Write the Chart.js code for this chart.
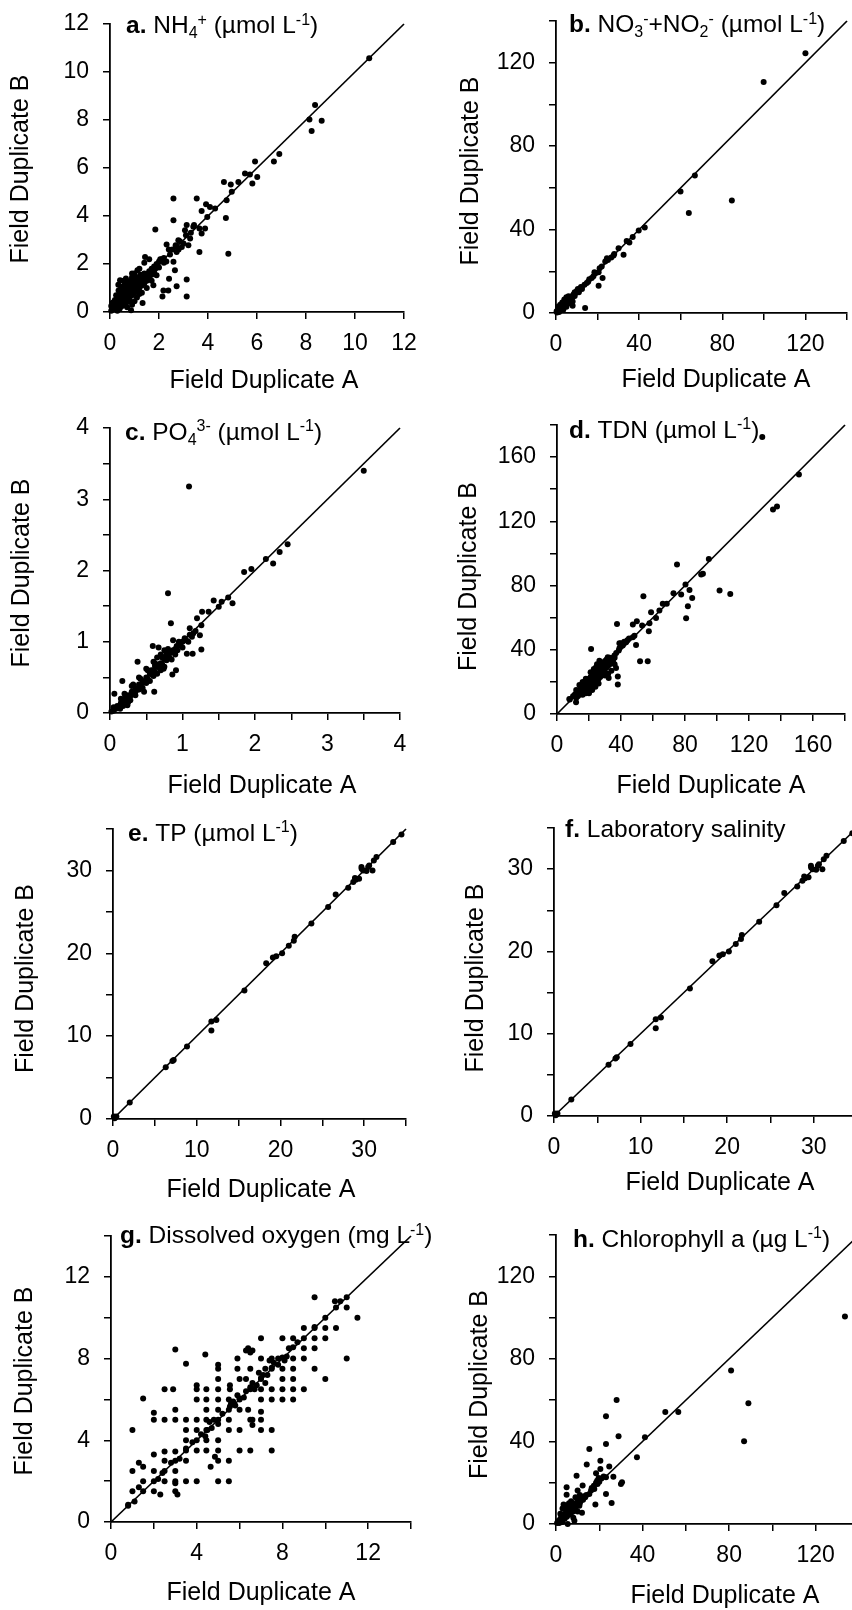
<!DOCTYPE html>
<html>
<head>
<meta charset="utf-8">
<script src="https://cdn.jsdelivr.net/npm/chart.js@4.4.0/dist/chart.umd.min.js"></script>
<style>
  html, body { margin: 0; padding: 0; background: #fff; overflow: hidden; }
  body { position: relative; width: 852px; height: 1610px; }
  canvas { position: absolute; }
</style>
</head>
<body>
<script>
// Field duplicate pairs [A, B], one array per panel
var nh4 = [
  [10.58,10.57],[8.37,8.62],[8.14,8.02],[8.23,7.54],[8.64,7.97],[6.69,6.27],[6.91,6.58],[5.92,6.27],[6.01,5.63],[5.81,5.35],
  [5.51,5.77],[5.71,5.73],[5.24,5.42],[4.93,5.31],[4.65,5.42],[4.97,5.01],[4.76,4.66],[4.73,3.92],[4.83,2.43],[4.29,4.31],
  [4.08,4.38],[3.92,4.49],[3.74,4.21],[3.97,3.96],[3.88,3.48],[3.74,3.27],[3.54,4.73],[3.43,3.62],[3.65,3.48],[3.65,2.50],
  [3.13,3.62],[3.06,3.41],[3.27,3.06],[3.20,2.78],[2.59,4.73],[2.59,3.82],[2.79,2.99],[2.72,2.71],[2.72,2.50],[2.93,2.71],
  [2.31,2.81],[2.59,2.09],[2.65,1.74],[2.41,1.39],[2.72,1.07],[3.13,1.35],[3.13,0.65],[2.18,0.90],[2.14,0.65],[2.38,0.90],
  [1.85,3.44],[1.43,2.29],[1.12,1.74],[0.34,1.14],[0.41,1.32],[0.86,0.07],[1.33,0.38],[1.77,1.11],[1.90,1.53],
  [2.20,2.25],[2.45,2.40],[2.55,2.60],[2.68,2.78],[2.85,2.95],[3.00,2.85],[3.10,3.20],[3.30,3.30],[3.40,3.55],[2.40,2.60],
  [2.80,2.60],[2.30,2.10],[2.05,2.20],
  [0.05,0.05],[0.10,0.20],[0.15,0.10],[0.20,0.30],[0.25,0.15],[0.30,0.40],[0.30,0.20],[0.35,0.50],[0.40,0.30],[0.45,0.60],
  [0.50,0.40],[0.50,0.70],[0.55,0.50],[0.60,0.80],[0.60,0.45],[0.65,0.65],[0.70,0.90],[0.70,0.55],[0.75,0.75],[0.80,1.00],
  [0.80,0.60],[0.85,0.85],[0.90,1.10],[0.90,0.70],[0.95,0.95],[1.00,1.20],[1.00,0.80],[1.05,1.00],[1.10,1.30],[1.10,0.90],
  [1.15,1.10],[1.20,1.40],[1.20,1.00],[1.25,1.20],[1.30,1.50],[1.30,1.10],[1.35,1.30],[1.40,1.60],[1.40,1.20],[1.50,1.50],
  [1.50,1.30],[1.60,1.70],[1.60,1.45],[1.70,1.80],[1.70,1.55],[1.80,1.90],[1.80,1.65],[1.90,2.00],[2.00,2.10],[2.00,1.85],
  [2.10,2.20],[2.20,2.05],[0.20,0.50],[0.40,0.80],[0.25,0.70],[0.50,1.00],[0.60,1.20],[0.70,1.25],[0.45,1.05],[0.60,1.00],
  [0.35,0.90],[0.55,1.30],[0.90,1.45],[1.00,1.60],[1.20,1.80],[1.40,2.05],[1.60,2.20],[1.10,0.60],[1.30,0.80],[1.00,0.45],
  [0.90,0.30],[0.70,0.20],[1.50,1.00],[1.70,1.30],[0.15,0.30],[0.08,0.12],[0.12,0.40],[0.30,0.05],[0.75,1.15],[0.85,1.30],
  [1.05,1.45],[0.65,0.35],[0.50,0.25],[0.40,0.15],
  [0.18,0.22],[0.28,0.32],[0.38,0.42],[0.48,0.55],[0.58,0.62],[0.68,0.75],[0.78,0.85],[0.88,0.95],[0.98,1.05],[1.08,1.15],
  [1.18,1.25],[1.28,1.35],[0.22,0.12],[0.32,0.25],[0.42,0.35],[0.52,0.45],[0.62,0.55],[0.72,0.65],[0.82,0.72],[0.92,0.82],
  [1.02,0.92],[1.12,1.02],[0.35,0.62],[0.45,0.75],[0.55,0.85],[0.65,0.95],[0.75,1.05],[0.85,1.15],[0.95,1.25],[1.05,1.35],
  [1.15,1.45],[1.25,1.55],[0.10,0.35],[0.05,0.25],[0.60,0.30],[0.80,0.45],[1.20,0.75],[1.45,1.40],[1.55,1.60],[1.65,1.60],
  [1.75,1.70],[1.85,1.80],[1.95,1.95],[0.90,1.60],[0.65,1.40]
];

var no3no2 = [
  [120,124.5],[99.9,110.7],[84.6,53.9],[63.9,47.9],[59.9,58.2],[66.8,65.9],[42.7,41],[39.8,39.6],[36.9,36.4],[35.3,33.8],
  [32.5,27.9],[30.1,31.1],[27.7,27.6],[26.6,26.6],[24.5,26.3],[23.7,24.7],[22.4,16.8],[20.5,13.1],[20.5,19.5],[18.5,19.5],
  [18,17.6],[17.2,16.8],[14,2.4],[14.8,14.4],[13.7,13.6],[12.4,12.4],[10.8,10.9],[9.2,9.3],[7.6,8],[6,6.4],
  [5.2,7.2],[6.8,5.6],[4.3,4.8],[2.7,4],[1.1,2.4],[1.9,1.6],[0.3,0.8],
  [0.5,0.2],[1,1.2],[1.5,0.5],[2,2.5],[2.5,1.8],[3,3.5],[3,2],[3.5,4.5],[4,3],[4.5,5],[5,4],[5.5,6.5],[6,5],[6.5,7],
  [7,6],[7.5,7.8],[8,7.5],[8.5,9],[9,8.2],[10,10.5],[11,10],[12,12.5],[3,5],[5,7.5],[7,4.5],[8,5.5],[1,3],[2,4],
  [4,6.5],[6,8],[9,10],[10.5,11.5],[12.5,11.5],[15.5,15],[16,16.2],[19,19],[21,21.5],[22,22.3],[25,25.4],[28,28.3],
  [34,34.5],[5,3],[8,3.5],[3.5,1.5]
];

var po4 = [
  [3.5,3.4],[1.09,3.18],[0.8,1.68],[0.84,1.26],[2.45,2.37],[2.34,2.26],[2.25,2.1],[2.15,2.16],[1.95,2.02],[1.85,1.98],
  [1.69,1.54],[1.63,1.62],[1.5,1.49],[1.43,1.58],[1.54,1.56],[1.36,1.42],[1.27,1.42],[1.2,1.33],[1.26,1.23],[1.1,1.19],
  [1.24,1.09],[1.13,1.07],[1.03,1.05],[1.26,0.89],[1.14,0.83],[1.06,0.83],[0.97,0.98],[0.87,1.02],[0.59,0.94],[0.67,0.92],
  [0.91,0.6],[0.86,0.54],[0.74,0.62],[0.38,0.72],[0.61,0.3],[0.47,0.3],[0.17,0.45],[0.06,0.27],[0.24,0.11],[0.14,0.06],
  [0.02,0.02],[0.05,0.03],[0.08,0.06],[0.1,0.1],[0.12,0.08],[0.15,0.14],[0.18,0.16],[0.2,0.2],[0.22,0.18],[0.25,0.25],
  [0.28,0.24],[0.3,0.3],[0.32,0.28],[0.35,0.35],[0.38,0.33],[0.4,0.4],[0.42,0.38],[0.45,0.45],[0.48,0.44],[0.5,0.5],
  [0.52,0.48],[0.55,0.55],[0.58,0.54],[0.6,0.6],[0.62,0.58],[0.65,0.65],[0.68,0.64],[0.7,0.7],[0.72,0.68],[0.75,0.75],
  [0.78,0.74],[0.8,0.8],[0.82,0.78],[0.85,0.85],[0.88,0.86],[0.9,0.9],[0.92,0.94],[0.95,0.95],[1.0,1.0],[1.05,1.02],
  [1.1,1.1],[1.15,1.12],[0.3,0.38],[0.4,0.5],[0.5,0.62],[0.6,0.72],[0.7,0.82],[0.8,0.9],[0.65,0.78],[0.75,0.88],
  [0.55,0.45],[0.65,0.55],[0.75,0.65],[0.45,0.35],[0.85,0.75],[0.25,0.15],[0.35,0.25],[0.15,0.2],[0.2,0.27],[0.28,0.18],
  [0.18,0.1],[0.7,0.6],[0.78,0.85],[0.9,0.82],[0.95,1.0],[1.0,0.92],[0.62,0.7],[0.52,0.6],[0.42,0.48],[0.32,0.4],
  [0.57,0.6],[0.67,0.68],[0.77,0.8],[0.87,0.88],[0.97,0.96],[0.35,0.3],[0.45,0.42],[0.25,0.2],[0.15,0.12],[0.05,0.08],
  [0.72,0.78],[0.82,0.86],[0.62,0.66],[1.08,1.0],[1.18,1.15],[0.93,0.88],[0.6,0.52],[0.5,0.42],[0.4,0.33],[0.3,0.26]
];

var tdn = [
  [128.3,172.5],[151.2,149.2],[137.5,129.2],[135,127.4],[94.9,96.6],[91.2,87.3],[90.1,86.9],[101.6,76.9],[108.3,74.8],[80.3,80.6],
  [82.8,77.3],[77.6,74.4],[72.8,75.2],[75,93.1],[84.5,72.3],[81.8,67.1],[80.7,59.6],[68.6,68.6],[66.1,68.6],[64,64.4],
  [61.9,59.8],[58.8,63.4],[57.8,56.5],[57.4,51.5],[54,73.4],[56.7,32.8],[51.9,32.8],[53.2,55.1],[49.9,57.8],[47.4,55.7],
  [48.4,48.8],[49.4,43],[47.4,47.8],[43.2,44.7],[39,44.1],[37.5,56.1],[36.9,28.7],[38,23.3],[38,18.3],[41.1,42.6],
  [38.6,39.5],[35.9,36.4],[31.7,35.3],[21.3,40.5],[26.5,33.2],[24.4,29.1],[30.7,24.9],[32.3,22.4],[7.7,9.4],[11.9,7.3],
  [8,9],[10,11],[12,10],[12,13],[13,14],[14,12],[14,15],[15,13],[15,17],[16,14],[16,18],[17,15],[17,16],[17,19],[18,16],
  [18,20],[18,17],[19,18],[19,21],[19,15],[20,17],[20,20],[20,22],[21,19],[21,23],[21,16],[22,20],[22,24],[22,18],[23,21],
  [23,25],[23,19],[24,22],[24,26],[24,20],[25,23],[25,27],[25,21],[26,24],[26,28],[26,22],[27,25],[27,30],[27,23],[28,26],
  [28,31],[28,24],[29,27],[29,32],[30,28],[30,33],[31,29],[31,34],[32,30],[33,31],[33,35],[34,32],[35,33],[36,35],[37,38],
  [39,41],[40,44],[42,45],[44,46],[45,47],[36,31],[34,27],[32,25],[30,24],[26,19],[24,17],[22,15],[20,13],[18,13],[16,12],
  [21,26],[23,28],[25,31],[18,22],[16,20],[14,18],[12,15],[11,12],[13,11],[15,15],[19,19],[22,22],[26,26],[29,29],[32,33],
  [15,16],[16,15],[17,17],[18,18],[18,19],[19,17],[20,18],[20,19],[21,20],[21,21],[22,21],[23,22],[23,23],[24,23],[24,24],
  [25,24],[25,25],[26,25],[27,27],[27,26],[28,28],[28,27],[29,28],[30,30],[30,29],[31,31],[32,32],[33,33],[34,34],[35,35],
  [14,14],[13,13],[12,12],[16,16],[17,18],[19,20],[20,21],[22,23]
];

var tp = [
  [34.46,34.35],[33.47,33.43],[31.47,31.62],[31.16,31.21],[31,30],[30.48,30.41],[30.28,29.92],[29.88,30],[29.68,30.41],[29.7,30.2],
  [30.6,30.6],[29.4,29],[29,28.88],[28.7,28.6],[28.9,29.1],[28.1,27.9],[26.6,27.1],[25.7,25.6],[23.7,23.6],[21.7,22],
  [21.6,21.5],[21,20.9],[20.2,20],[19.5,19.65],[19.1,19.5],[18.3,18.8],[15.7,15.5],[12.35,11.96],[11.75,11.76],[11.75,10.67],
  [8.84,8.74],[7.25,7.13],[7.1,7.0],[6.3,6.24],[2,2],[0.2,0.1],[0.4,0.3],[0.1,0.3],[0.3,0.2]
];

var salinity = [
  [34.46,34.35],[33.47,33.43],[31.47,31.62],[31.16,31.21],[31,30],[30.48,30.41],[30.28,29.92],[29.88,30],[29.68,30.41],[29.7,30.2],
  [30.6,30.6],[29.4,29],[29,28.88],[28.7,28.6],[28.9,29.1],[28.1,27.9],[26.6,27.1],[25.7,25.6],[23.7,23.6],[21.7,22],
  [21.6,21.5],[21,20.9],[20.2,20],[19.5,19.65],[19.1,19.5],[18.3,18.8],[15.7,15.5],[12.35,11.96],[11.75,11.76],[11.75,10.67],
  [8.84,8.74],[7.25,7.13],[7.1,7.0],[6.3,6.24],[2,2],[0.2,0.1],[0.4,0.3],[0.1,0.3],[0.3,0.2]
];

var oxygen = [
  [9.5,11],[11,11],[10.45,10.8],[10.7,10.8],[11,10.5],[11.5,10],[10,10],[9,9.5],[9.5,9.5],[10,9.5],[10.5,9.5],[9.5,9],[10,9],
  [9,8.5],[9.5,8.5],[9,8],[11,8],[9.5,7.5],[10,7],[9,6.5],[8.5,6],[8,6],[8.5,6.5],[8.5,7],[8.5,7.5],[8.5,8],[8.5,9],[8,9],
  [7,9],[6.3,8.4],[6.4,8.5],[5.9,8],[5.9,7.5],[6,7],[6.5,6.5],[7,6],[7.5,6],[7.5,6.5],[8,6.5],[8,7],[7,5.4],[7,5],[6.6,5],
  [6.6,4.75],[7,4.5],[7.5,4.5],[7.5,3.5],[6.5,3.5],[6,3.5],[5.5,5],[5.5,4.5],[5.5,3],[5.5,2],[5,2],[5,3],[5,3.5],[5,4],
  [5,5],[5,5.5],[5,6],[5,6.5],[5,7],[5,7.5],[5,7.7],[4.4,8.2],[4,6.7],[4,6],[4,6.5],[4,5],[4,4.5],[4,4],[4,3.5],[4,2],
  [3.5,2],[3.5,3],[3.5,3.5],[3.5,4],[3.5,4.5],[3.5,5],[3.5,7.75],[3,8.45],[3,5],[3,5.5],[2.9,6.5],[2.5,6.5],[2.5,5],[2,5],
  [2,5.35],[1.5,6.05],[1,4.5],[1,2.5],[1,1.5],[1.1,1],[0.8,0.85],[1.3,1.7],[1.5,2.7],[1.3,2.9],[1.5,2],[2,3.3],[2,2.5],
  [2,1.5],[2.3,1.35],[2.5,2],[2.5,2.5],[2.5,3],[2.5,3.45],[3,3.45],[3,2.5],[3,2],[3,1.5],[3.1,1.35],[3,1.9],[4.65,2.7],
  [4.85,3.2],[4.45,3.5],[4.45,4],[4.45,4.5],[4.45,6.5],[4.45,6],[4.45,5.5],[5.55,5.65],[6,6],[6.5,5],[6,5.5],[6.4,5.5],
  [6,4.5],[7,6.5],[7,7],[7.5,7.5],[8,7.5],[7.5,8],[7,8],[6.5,7.5],[6.3,7],[5.55,6.5],[5.55,6.7],[5.5,6],[4.45,5],
  [0.8,0.8],[1.5,1.5],[2,2],[2.2,2.1],[2.4,2.4],[2.8,2.9],[3,3],[3.2,3.1],[3.5,3.6],[3.8,3.9],[4.2,4.3],[4.5,4.5],[4.7,4.6],
  [4.8,5],[5,4.8],[5.2,5.3],[5.5,5.5],[5.6,5.8],[5.8,5.7],[6,6.05],[6.2,6.1],[6.3,6.4],[6.5,6.6],[6.6,6.8],[6.8,6.7],
  [7,7.05],[7.1,7.2],[7.3,7.2],[7.5,7.55],[7.6,7.8],[7.8,7.7],[8,8.05],[8.2,8.1],[8.3,8.5],[8.5,8.55],[8.7,8.8],[9,9],
  [9.5,9.55],[10.5,10.5],[7.2,7.5],[6.9,7.3],[7.4,7.9],[7.8,8],[8.1,7.9],[7.2,6.8],[6.7,6.5],[5.9,6.2],[5.7,5.9],[4.6,4.9],
  [4.4,4.2],[6.5,8.3],[6.6,8.4]
];

var chlorophyll = [
  [133.5,100.5],[80.9,74.3],[88.9,58.5],[86.9,40.1],[56.5,54.3],[50.5,54.3],[41.1,42],[37.4,32.3],[28,60.1],[23.1,52.2],
  [28.9,42.5],[23.1,38.8],[15.4,36.3],[20.5,30.7],[14.2,28.8],[24.6,27.8],[20.5,26.7],[18.5,24.6],[26.5,22.9],[23.1,22.6],
  [30.5,20.2],[30,19.4],[9.5,23.4],[12.3,18.6],[4.9,17.8],[4.9,14.2],[23.1,14.5],[18.2,9.4],[25.7,10.2],[19.7,22.3],
  [19.2,19.4],[17.7,17],[16.2,16.2],[15.4,14.5],[13.5,12.9],[11.5,11.3],[10,16.2],[10.8,8.9],[7.7,7.3],[6.2,6.5],[8.5,1.6],[5.4,0],
  [0.5,0.5],[1,1.5],[1.5,0.5],[2,2.5],[2,1],[2.5,3],[3,2],[3,4],[3.5,3],[4,5],[4,2.5],[4.5,4],[5,6],[5,3.5],[5.5,5],[6,7],
  [6,4.5],[6.5,6],[7,8],[7,5.5],[7.5,7],[8,9],[8,6],[8.5,8],[9,10],[9,7.5],[10,11],[10,9],[11,12],[11,10],[12,13],[12,5.5],
  [3,7.5],[4,8.5],[5,9],[2,5],[6,10],[7,11],[9,13],[3,1],[8,3],[10,6],[3.5,9.5],[5.5,7.5],[12.5,11.8],[13,13.5],[14,14],
  [16.5,17.5],[17.5,18.5],[18.5,20],[19,21],[20,20.5],[21,22],[22,23],[11,14],[10,12]
];

// axes: same range on A and B in every panel
var axisMax   = [12, 140, 4, 180, 35, 35, 14, 140];
var tickStep  = [2, 20, 0.5, 20, 5, 5, 2, 20];
var labelStep = [2, 40, 1, 40, 10, 10, 4, 40];

// panel headings, split in [text, kind] runs
var headings = [
  [['a.','b'],[' NH','n'],['4','sub'],['+','sup'],[' (\u00b5mol L','n'],['-1','sup'],[')','n']],
  [['b.','b'],[' NO','n'],['3','sub'],['-','sup'],['+NO','n'],['2','sub'],['-','sup'],[' (\u00b5mol L','n'],['-1','sup'],[')','n']],
  [['c.','b'],[' PO','n'],['4','sub'],['3-','sup'],[' (\u00b5mol L','n'],['-1','sup'],[')','n']],
  [['d.','b'],[' TDN (\u00b5mol L','n'],['-1','sup'],[')','n']],
  [['e.','b'],[' TP (\u00b5mol L','n'],['-1','sup'],[')','n']],
  [['f.','b'],[' Laboratory salinity','n']],
  [['g.','b'],[' Dissolved oxygen (mg L','n'],['-1','sup'],[')','n']],
  [['h.','b'],[' Chlorophyll a (\u00b5g L','n'],['-1','sup'],[')','n']]
];
var xTitle = 'Field Duplicate A';
var yTitle = 'Field Duplicate B';

var series = [nh4, no3no2, po4, tdn, tp, salinity, oxygen, chlorophyll];

// page layout of each panel: plot box [l,t,r,b], heading start, axis title centres
var boxes = [
  {col:0, box:[110,24,404,312],     head:[126,33],     xt:[264,381],  yt:[21,169]},
  {col:1, box:[556,21,847,313],     head:[569,32],     xt:[716,380],  yt:[471,171]},
  {col:0, box:[110,428,400,713],    head:[125,439.5],  xt:[262,786],  yt:[22,573]},
  {col:1, box:[557,424.5,845,713],  head:[569,437],    xt:[711,786],  yt:[469,576]},
  {col:0, box:[113,828.5,406,1118], head:[128,840],    xt:[261,1190], yt:[26,978]},
  {col:1, box:[554,828,857,1116],   head:[565,836.7],  xt:[720,1183], yt:[476,978]},
  {col:0, box:[111,1236,411,1522],  head:[120,1243.3], xt:[261,1593], yt:[25,1381]},
  {col:1, box:[556,1234.5,859,1523],head:[573,1246],   xt:[725,1596], yt:[480,1384]}
];

var FONT = '"Liberation Sans", Arial, Helvetica, sans-serif';
Chart.defaults.font.family = FONT;
Chart.defaults.color = '#000';

// heading and axis titles, drawn at page positions
var panelText = {
  id: 'panelText',
  afterDraw: function (chart, args, o) {
    var ctx = chart.ctx;
    ctx.save();
    ctx.fillStyle = '#000';
    ctx.textAlign = 'left';
    ctx.textBaseline = 'alphabetic';
    var x = o.head[0] - o.ox, y = o.head[1] - o.oy;
    o.parts.forEach(function (p) {
      var k = p[1], small = (k === 'sub' || k === 'sup');
      ctx.font = (k === 'b' ? 'bold ' : '') + (small ? 16 : 24.5) + 'px ' + FONT;
      ctx.fillText(p[0], x, y + (k === 'sub' ? 5 : k === 'sup' ? -8.5 : 0));
      x += ctx.measureText(p[0]).width;
    });
    ctx.font = '25px ' + FONT;
    ctx.textAlign = 'center';
    ctx.textBaseline = 'middle';
    ctx.fillText(xTitle, o.xt[0] - o.ox, o.xt[1] - o.oy);
    ctx.translate(o.yt[0] - o.ox, o.yt[1] - o.oy);
    ctx.rotate(-Math.PI / 2);
    ctx.fillText(yTitle, 0, 0);
    ctx.restore();
  }
};

boxes.forEach(function (p, i) {
  var left = p.col ? 430 : 0;
  var right = p.col ? 880 : 452;
  var top = p.box[1] - 30;
  var bottom = p.xt[1] + 18;
  var c = document.createElement('canvas');
  c.width = right - left;
  c.height = Math.round(bottom - top);
  c.style.left = left + 'px';
  c.style.top = top + 'px';
  document.body.appendChild(c);

  var max = axisMax[i], lab = labelStep[i];
  var fmt = function (v) { return (Math.abs(v / lab - Math.round(v / lab)) < 1e-6) ? v : ''; };
  var axis = function (isX) {
    return {
      type: 'linear', min: 0, max: max,
      ticks: { stepSize: tickStep[i], autoSkip: false, maxRotation: 0, callback: fmt,
               color: '#000', font: { size: 23 }, padding: isX ? 11 : 14 },
      grid: { drawOnChartArea: false, drawTicks: true, tickLength: 7, color: '#000', lineWidth: 1.5 },
      border: { display: true, color: '#000', width: 1.8 },
      afterFit: function (s) {
        if (isX) s.height = bottom - p.box[3];
        else s.width = p.box[0] - left;
      }
    };
  };

  new Chart(c, {
    type: 'scatter',
    data: {
      datasets: [{
        data: series[i].map(function (d) { return { x: d[0], y: d[1] }; }),
        pointRadius: 3, pointBackgroundColor: '#000', pointBorderWidth: 0,
        clip: false
      }, {
        type: 'line',
        data: [{ x: 0, y: 0 }, { x: max, y: max }],
        borderColor: '#000', borderWidth: 1.7, pointRadius: 0, fill: false,
        clip: false
      }]
    },
    options: {
      responsive: false, animation: false, events: [],
      layout: { autoPadding: false, padding: { left: 0, top: p.box[1] - top, right: right - p.box[2], bottom: 0 } },
      plugins: {
        legend: { display: false }, tooltip: { enabled: false },
        panelText: { parts: headings[i], head: p.head, xt: p.xt, yt: p.yt, ox: left, oy: top }
      },
      scales: { x: axis(true), y: axis(false) }
    },
    plugins: [panelText]
  });
});
</script>
</body>
</html>
